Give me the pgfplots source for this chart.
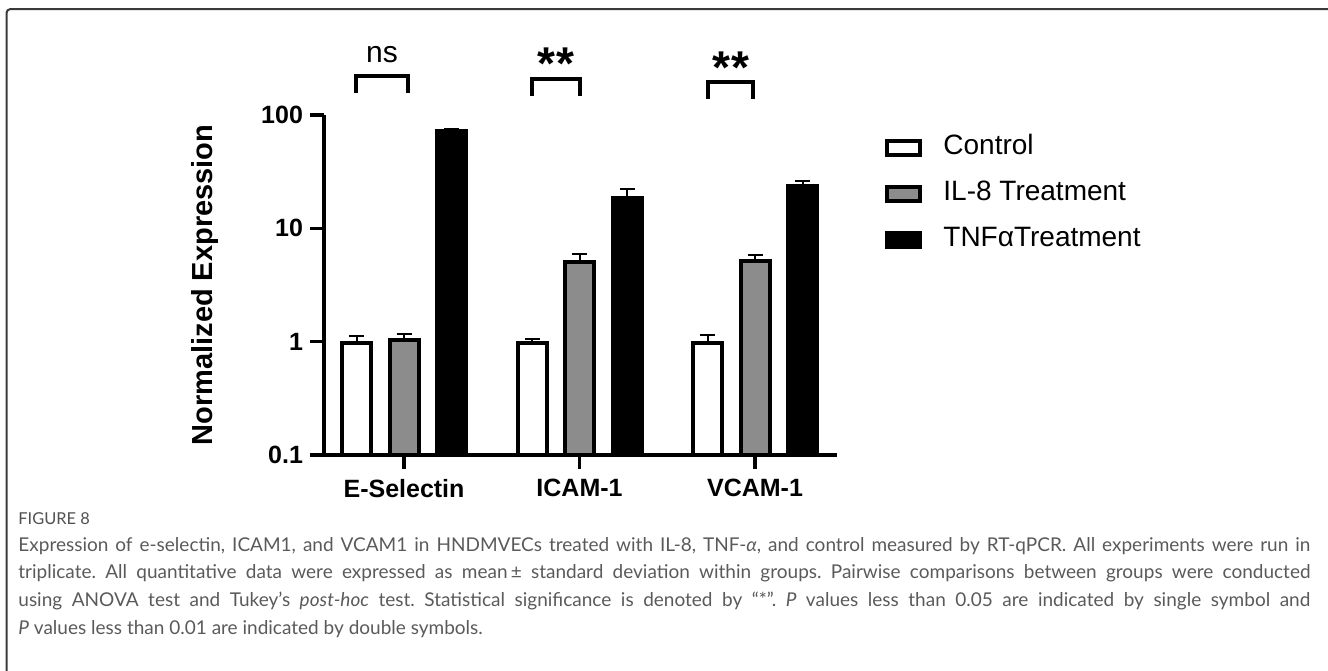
\documentclass[border=0pt]{standalone}
\usepackage{fontspec}
\setmainfont{Liberation Sans}
\newfontfamily\capfont{Lato}
\usepackage{pgfplots}
\pgfplotsset{compat=1.18}
\definecolor{barGray}{HTML}{8C8C8C}
\definecolor{capGray}{HTML}{5A5A5A}
\definecolor{frameGray}{HTML}{3A3A3A}
\frenchspacing
\begin{document}
\begin{tikzpicture}
\path[use as bounding box] (0,0) rectangle (664pt,-335pt);
\begin{scope}[x=0.5pt,y=-0.5pt]
\draw[frameGray, line width=1pt, rounded corners=2pt] (6.5,680) -- (6.5,9) -- (1340,9);
\end{scope}
\begin{axis}[
  at={(162pt,-227.5pt)}, anchor=south west,
  scale only axis, width=256.5pt, height=170pt,
  ymode=log, ymin=0.1, ymax=100, log origin y=infty,
  xmin=-0.456, xmax=2.467,
  axis lines=left, axis line style={line width=1.6pt, -},
  xtick={0,1,2}, xticklabels={E-Selectin,ICAM-1,VCAM-1},
  ytick={0.1,1,10,100}, yticklabels={0.1,1,10,100},
  yminorticks=false,
  tick style={line width=1.6pt, black},
  major tick length=7pt,
  tick align=outside,
  ticklabel style={font=\fontsize{12.5}{14}\selectfont\bfseries},
  xticklabel style={yshift=-1.5pt},
  ylabel={Normalized Expression},
  ylabel style={font=\fontsize{14.5}{16}\selectfont\bfseries, at={(axis description cs:-0.232,0.5)}, anchor=center},
  clip=false,
  ybar, bar width=14.5pt,
  legend style={at={(axis description cs:1.0936,0.768)}, anchor=west, draw=none, fill=none,
    font=\fontsize{14}{16}\selectfont, inner sep=0pt, row sep=10pt,
    nodes={inner sep=0pt, text height=10pt, text depth=3pt},
    /tikz/every odd column/.append style={column sep=10.5pt}},
  legend cell align=left,
  error bars/y dir=plus, error bars/y explicit,
  error bars/error bar style={line width=1pt, black},
  error bars/error mark options={rotate=90, mark size=3.75pt, line width=1pt, black},
]
\addplot[fill=white, draw=black, line width=2pt, bar shift=-23.75pt,
  legend image code/.code={\draw[fill=white, draw=black, line width=2pt] (1pt,-3.5pt) rectangle (17.5pt,3.5pt);}]
  table[x=x, y=y, y error plus=ep] {
x y ep
0 0.97 0.15
1 0.97 0.08
2 0.97 0.18
};
\addplot[fill=barGray, draw=black, line width=2pt, bar shift=0pt,
  legend image code/.code={\draw[fill=barGray, draw=black, line width=2pt] (1pt,-3.5pt) rectangle (17.5pt,3.5pt);}]
  table[x=x, y=y, y error plus=ep] {
x y ep
0 1.04 0.14
1 5.0 0.9
2 5.1 0.7
};
\addplot[fill=black, draw=black, line width=2pt, bar shift=23.75pt,
  legend image code/.code={\draw[fill=black, draw=black, line width=2pt] (1pt,-3.5pt) rectangle (17.5pt,3.5pt);}]
  table[x=x, y=y, y error plus=ep] {
x y ep
0 72 3.5
1 18.6 3.5
2 23.4 2.8
};
\legend{Control, IL-8 Treatment, TNFαTreatment}
\end{axis}
\begin{scope}[x=0.5pt,y=-0.5pt]
\draw[line width=2pt] (356,93) -- (356,76) -- (408,76) -- (408,93);
\draw[line width=2pt] (532,95.7) -- (532,78.7) -- (580,78.7) -- (580,95.7);
\draw[line width=2pt] (707.7,99) -- (707.7,82) -- (753,82) -- (753,99);
\node[anchor=base, font=\fontsize{15}{17}\selectfont, inner sep=0pt] at (382,62) {ns};
\node[anchor=base, font=\fontsize{23}{26}\selectfont\bfseries, inner sep=0pt] at (556,79) {*\kern1pt*};
\node[anchor=base, font=\fontsize{23}{26}\selectfont\bfseries, inner sep=0pt] at (731,83) {*\kern1pt*};
\node[anchor=base west, font=\capfont\fontsize{8.2}{10}\selectfont, text=capGray!90!black, inner sep=0pt] at (18,524) {FIGURE 8};
\node[anchor=base west, text width=646pt, align=justify, inner sep=0pt,
  font=\capfont\fontsize{9.5}{13.85}\selectfont, text=capGray] at (18,551)
 {Expression of e-selectin, ICAM1, and VCAM1 in HNDMVECs treated with IL-8, TNF-\textit{α}, and control measured by RT-qPCR. All experiments were run in\linebreak
 triplicate. All quantitative data were expressed as mean\,± standard deviation within groups. Pairwise comparisons between groups were conducted\linebreak
 using ANOVA test and Tukey’s \textit{post-hoc} test. Statistical significance is denoted by “*”. \textit{P} values less than 0.05 are indicated by single symbol and\linebreak
 \textit{P} values less than 0.01 are indicated by double symbols.};
\end{scope}
\end{tikzpicture}
\end{document}
